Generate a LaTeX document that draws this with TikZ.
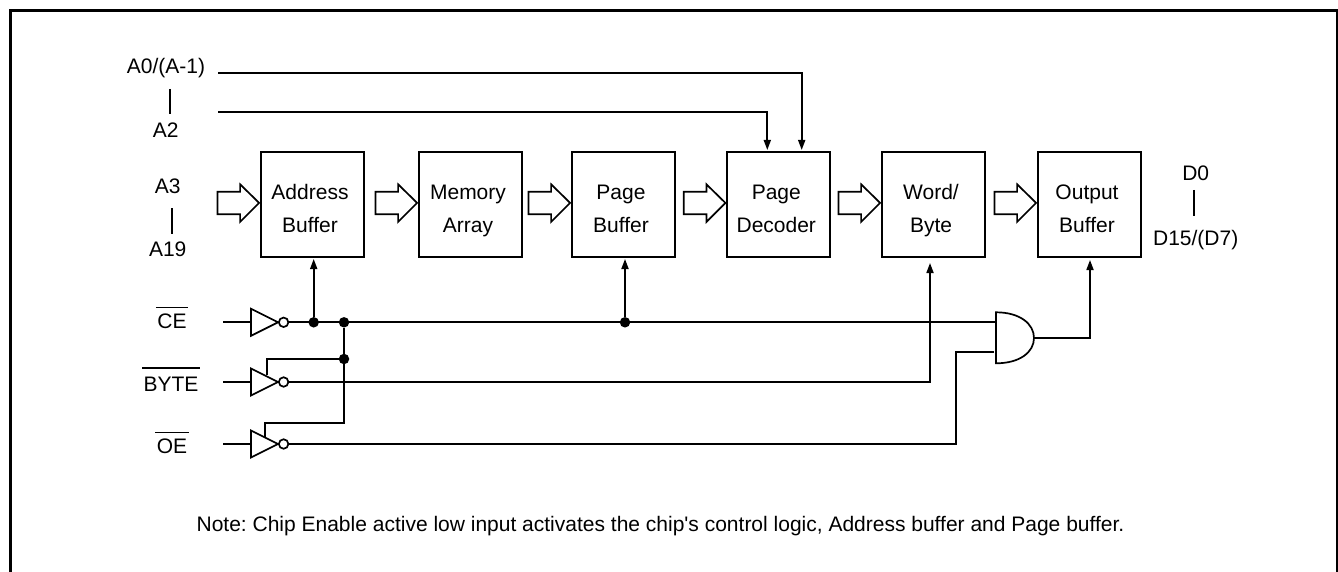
\documentclass[tikz,border=0pt]{standalone}
\usepackage{fontspec}
\setmainfont{Liberation Sans}[Ligatures=TeXOff]
\usetikzlibrary{arrows.meta, calc}
\tikzstyle{block} = [
    draw,
    line width=2pt,
    minimum width=103pt,
    minimum height=104.5pt,
    inner sep=0pt,
    align=center,
    text centered
]
\tikzstyle{label} = [
    inner sep=0pt,
    anchor=base
]
\tikzstyle{wire} = [
    line width=1.7pt
]
\tikzstyle{arrow} = [
    wire,
    -{Triangle[length=10pt,width=7pt]}
]
\tikzstyle{hollow} = [
    line width=1.7pt,
    line join=miter
]
\tikzstyle{dot} = [
    circle,
    fill=black,
    inner sep=0pt,
    minimum size=10.5pt
]
\newcommand{\blocktext}[2]{\rule[-3pt]{0pt}{30pt}#1\hspace*{5pt}\\\rule[-3pt]{0pt}{30pt}#2\hspace*{5pt}}
\newcommand{\barred}[2][5pt]{\vbox{\hrule height 1.6pt \kern #1 \hbox{\kern1.5pt #2\kern1.5pt}}}
\newcommand{\widearrow}[1]{%
    \draw[hollow] ($(#1.west)+(-42.5pt,-10pt)$) -- ++(22.6pt,0) -- ++(0,-7.6pt) -- ++(19pt,19pt) -- ++(-19pt,18.6pt) -- ++(0,-7.4pt) -- ++(-22.6pt,0) -- cycle;
}
\newcommand{\inverter}[2]{%
    \coordinate (#1in) at (223,#2);
    \coordinate (#1tip) at (278,#2);
    \draw[hollow] (251,#2-13.5) -- (251,#2+13.5) -- (#1tip) -- cycle;
    \node (#1not) [circle, draw, line width=1.7pt, fill=white, inner sep=0pt, minimum size=9.5pt, anchor=west] at (#1tip) {};
    \draw[wire] (#1in) -- (251,#2);
}
\begin{document}
\begin{tikzpicture}[x=1pt, y=-1pt, font=\fontsize{21}{33}\selectfont\frenchspacing]
    \useasboundingbox (0,0) rectangle (1338,572);
    % frame
    \draw[line width=2.4pt] (10.5,572) -- (10.5,10.5) -- (1337,10.5) -- (1337,572);

    % blocks
    \node (addr) [block] at (312.5,204.3) {\blocktext{Address}{Buffer}};
    \node (mem) [block] at (470.5,204.3) {\blocktext{Memory}{Array}};
    \node (pbuf) [block] at (623.5,204.3) {\blocktext{Page}{Buffer}};
    \node (pdec) [block] at (778.8,204.3) {\blocktext{Page}{Decoder}};
    \node (word) [block] at (933.5,204.3) {\blocktext{Word/}{Byte}};
    \node (obuf) [block] at (1089.5,204.3) {\blocktext{Output}{Buffer}};
    \widearrow{addr}
    \widearrow{mem}
    \widearrow{pbuf}
    \widearrow{pdec}
    \widearrow{word}
    \widearrow{obuf}

    % labels
    \node (a0) [label] at (166,74) {A0/(A-1)};
    \node (a2) [label] at (165.7,137.7) {A2};
    \node (a3) [label] at (167.7,193.3) {A3};
    \node (a19) [label] at (167.7,256.7) {A19};
    \node (d0) [label] at (1195.7,181) {D0};
    \node (d15) [label] at (1195.7,245.7) {D15/(D7)};
    \node (ce) [label] at (172,328) {\barred{CE}};
    \node (byte) [label] at (171,391) {\barred[8pt]{BYTE}};
    \node (oe) [label] at (172,453) {\barred{OE}};
    \draw[wire] (170,89) -- (170,114.5);
    \draw[wire] (172,208.3) -- (172,234);
    \draw[wire] (1194.3,190) -- (1194.3,216);

    % address lines
    \coordinate (a0end) at (218.3,72.7);
    \coordinate (a2end) at (218.3,111.7);
    \draw[arrow] (a0end) -- (801.7,72.7) -- (801.7,150);
    \draw[arrow] (a2end) -- (767.3,111.7) -- (767.3,150);

    % inverters
    \inverter{ce}{322.3}
    \inverter{by}{382}
    \inverter{oe}{444}

    % and gate
    \coordinate (gatetop) at (996,312.3);
    \coordinate (gatebot) at (996,363.3);
    \coordinate (gateout) at (1034,338);
    \draw[hollow] (gatetop) -- (gatebot) .. controls (1020,363.3) and (1034,352) .. (gateout) .. controls (1034,324) and (1020,312.3) .. (gatetop) -- cycle;

    % control lines
    \node (cejoin) [dot] at (313.7,322.3) {};
    \node (pjoin) [dot] at (344,322.3) {};
    \node (bjoin) [dot] at (344,359) {};
    \node (pagejoin) [dot] at (625,322.3) {};
    \draw[wire] (cenot) -- (996,322.3);
    \draw[arrow] (cejoin) -- (313.7,259);
    \draw[arrow] (pagejoin) -- (625,259);
    \draw[wire] (pjoin) -- (344,423.3) -- (265,423.3) -- (265,437);
    \draw[wire] (bjoin) -- (266.7,359) -- (266.7,375);
    \draw[arrow] (bynot) -- (930,382) -- (930,263);
    \draw[wire] (oenot) -- (956,444) -- (956,352) -- (994,352);
    \draw[arrow] (gateout) -- (1090,338) -- (1090,260);

    % note
    \node (note) [label] at (660.5,531.7) {Note: Chip Enable active low input activates the chip's control logic, Address buffer and Page buffer.};
\end{tikzpicture}
\end{document}
